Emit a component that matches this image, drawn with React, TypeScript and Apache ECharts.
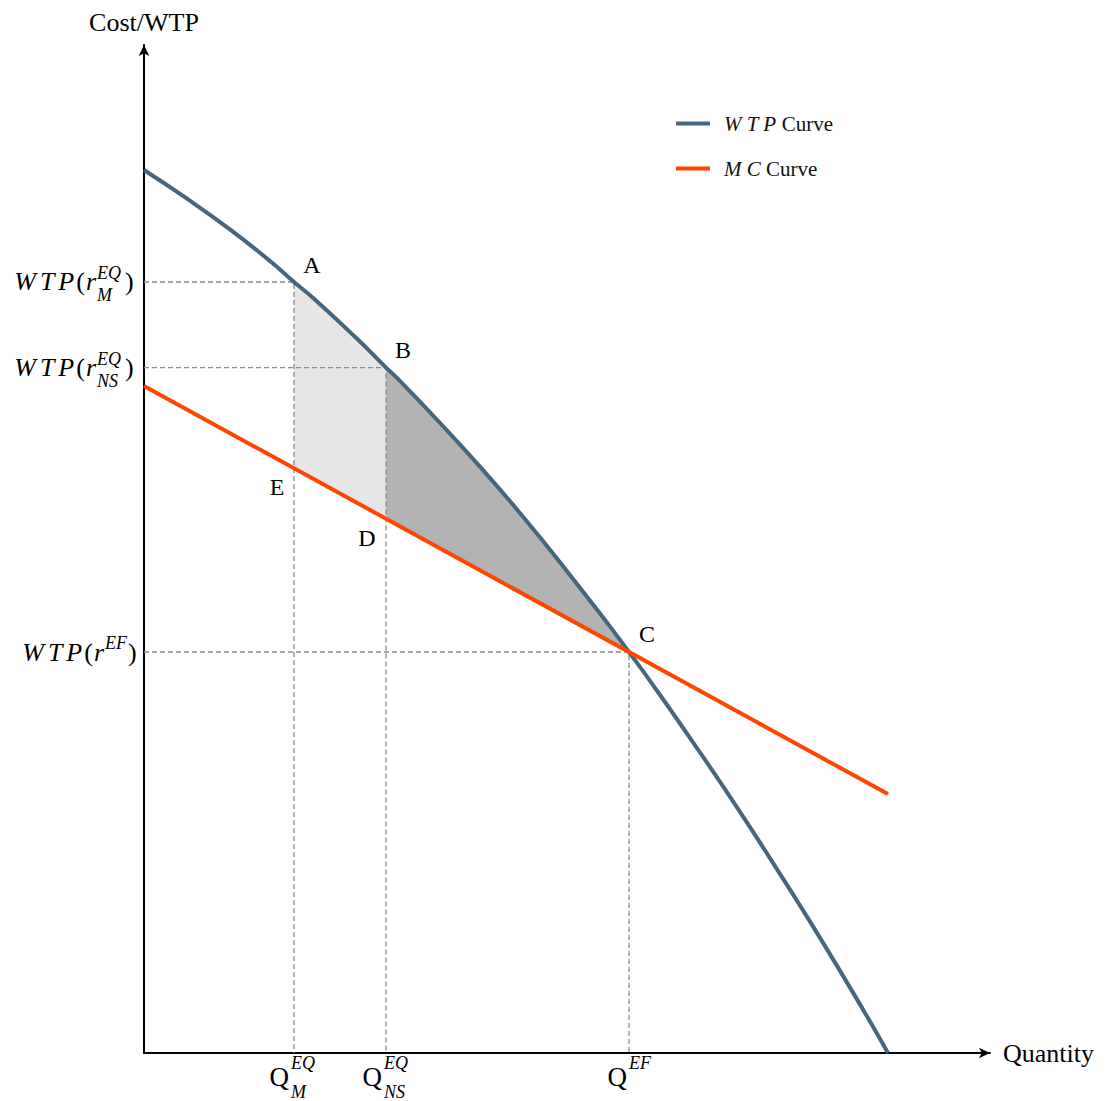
import React, { useEffect, useRef } from 'react';
import * as echarts from 'echarts';

const FONT = '"Liberation Serif", "Times New Roman", serif';

// WTP curve: [quantity, cost/WTP]
const wtpCurve: number[][] = [
  [0, 8.76], [0.5, 8.48], [1.0, 8.18], [1.5, 7.85], [1.773, 7.649], [2.0, 7.49],
  [2.5, 7.10], [2.861, 6.80], [3.0, 6.69], [3.5, 6.25], [4.0, 5.79], [4.5, 5.30],
  [5.0, 4.78], [5.5, 4.24], [5.733, 3.978], [6.0, 3.67], [6.5, 3.07], [7.0, 2.45],
  [7.5, 1.80], [8.0, 1.13], [8.5, 0.43], [8.794, 0.0],
];
// MC line endpoints
const mcLine: number[][] = [[0, 6.617], [8.794, 2.569]];

// Named points
const pointA = [1.773, 7.649];
const pointB = [2.861, 6.80];
const pointC = [5.733, 3.978];
const pointD = [2.861, 5.30];
const pointE = [1.773, 5.801];
const pointNames = ['A', 'B', 'C', 'D', 'E'];

// Tick label parts
const yTickPoints = [pointA, pointB, pointC];
const yTickSup = ['EQ', 'EQ', 'EF'];
const yTickSub = ['M', 'NS', ''];
const xTickSup = ['EQ', 'EQ', 'EF'];
const xTickSub = ['M', 'NS', ''];

const seriesNames = ['WTP Curve', 'MC Curve'];
const axisNames = ['Quantity', 'Cost/WTP'];

const lightRegion = [
  ...wtpCurve.filter((p) => p[0] >= pointA[0] && p[0] <= pointB[0]),
  pointD,
  pointE,
];
const darkRegion = [
  ...wtpCurve.filter((p) => p[0] >= pointB[0] && p[0] <= pointC[0]),
  pointD,
];

const BLUE = '#44677f';
const ORANGE = '#ff4500';

export default function App() {
  const ref = useRef<HTMLDivElement>(null);
  useEffect(() => {
    const chart = echarts.init(ref.current!, null, { renderer: 'svg' });

    const region = (pts: number[][], color: string) => ({
      type: 'custom',
      coordinateSystem: 'cartesian2d',
      data: [[0, 0]],
      silent: true,
      z: 1,
      renderItem: (_p: any, api: any) => ({
        type: 'polygon',
        shape: { points: pts.map((p) => api.coord(p)) },
        style: { fill: color, stroke: 'none' },
      }),
    });

    const guide = (p: number[]) => ({
      type: 'line',
      data: [[0, p[1]], [p[0], p[1]], [p[0], 0]],
      symbol: 'none',
      silent: true,
      z: 2,
      lineStyle: { type: [5, 3], color: '#8a8a8a', width: 1.3 },
    });

    const option: any = {
      animation: false,
      backgroundColor: '#fff',
      grid: { left: 144, right: 115, top: 45, bottom: 48, containLabel: false, outerBoundsMode: 'none' },
      legend: {
        data: seriesNames,
        orient: 'vertical',
        left: 676,
        top: 113,
        padding: 0,
        itemWidth: 34,
        itemHeight: 4,
        itemGap: 24,
        icon: 'rect',
        formatter: (name: string) => (name === 'WTP Curve' ? '{i|W T P} Curve' : '{i|M C} Curve'),
        textStyle: {
          fontFamily: FONT,
          fontSize: 21,
          color: '#111',
          rich: {
            i: { fontFamily: FONT, fontSize: 21, fontStyle: 'italic', color: '#111', padding: [0, 0, 0, 9] },
          },
        },
      },
      xAxis: {
        type: 'value',
        min: 0,
        max: 10,
        name: axisNames[0],
        nameLocation: 'end',
        nameGap: 13,
        nameTextStyle: { fontFamily: FONT, fontSize: 26, color: '#000' },
        axisLine: { lineStyle: { color: '#000', width: 2 }, symbol: ['none', 'arrow'], symbolSize: [8, 11] },
        axisTick: { show: false },
        axisLabel: { show: false },
        splitLine: { show: false },
      },
      yAxis: {
        type: 'value',
        min: 0,
        max: 10,
        name: axisNames[1],
        nameLocation: 'end',
        nameGap: 10,
        nameTextStyle: { fontFamily: FONT, fontSize: 26, color: '#000' },
        axisLine: { lineStyle: { color: '#000', width: 2 }, symbol: ['none', 'arrow'], symbolSize: [8, 11] },
        axisTick: { show: false },
        axisLabel: { show: false },
        splitLine: { show: false },
      },
      series: [
        region(lightRegion, '#e6e6e6'),
        region(darkRegion, '#b3b3b3'),
        ...yTickPoints.map(guide),
        {
          name: seriesNames[0],
          type: 'line',
          data: wtpCurve,
          symbol: 'none',
          smooth: true,
          z: 3,
          color: BLUE,
          lineStyle: { color: BLUE, width: 4 },
        },
        {
          name: seriesNames[1],
          type: 'line',
          data: mcLine,
          symbol: 'none',
          z: 4,
          color: ORANGE,
          lineStyle: { color: ORANGE, width: 4 },
        },
      ],
    };
    chart.setOption(option);

    const px = (p: number[]) => chart.convertToPixel({ gridIndex: 0 }, p) as number[];
    const txt = (x: number, y: number, text: string, size: number, italic: boolean, align: string, rich?: any) => ({
      type: 'text',
      x,
      y,
      silent: true,
      z: 100,
      style: {
        text,
        fill: '#000',
        fontFamily: FONT,
        fontSize: size,
        fontStyle: italic ? 'italic' : 'normal',
        align,
        verticalAlign: 'middle',
        rich,
      },
    });
    const mainRich = {
      i: { fontFamily: FONT, fontSize: 26, fontStyle: 'italic', fill: '#000', padding: [0, 4, 0, 0] },
      p: { fontFamily: FONT, fontSize: 26, fontStyle: 'italic', fill: '#000', padding: [0, 2, 0, 0] },
      r: { fontFamily: FONT, fontSize: 26, fontStyle: 'italic', fill: '#000' },
      n: { fontFamily: FONT, fontSize: 26, fill: '#000', padding: [0, 1, 0, 0] },
    };

    const elements: any[] = [];
    const origin = px([0, 0]);
    // y-axis tick labels
    yTickPoints.forEach((p, k) => {
      const [, y] = px([0, p[1]]);
      const ax = origin[0];
      const hasSub = yTickSub[k] !== '';
      const scriptX = hasSub ? ax - 48 : ax - 40;
      const closeX = hasSub ? ax - 19 : ax - 16;
      elements.push(txt(scriptX, y, '{i|W}{i|T}{p|P}{n|(}{r|r}', 26, false, 'right', mainRich));
      elements.push(txt(scriptX + 1, y - 9, yTickSup[k], 18, true, 'left'));
      if (hasSub) elements.push(txt(scriptX + 1, y + 13, yTickSub[k], 18, true, 'left'));
      elements.push(txt(closeX, y, ')', 26, false, 'left'));
    });
    // x-axis tick labels
    yTickPoints.forEach((p, k) => {
      const [x] = px([p[0], 0]);
      const ay = origin[1];
      const hasSub = xTickSub[k] !== '';
      const qRight = hasSub ? x - (k === 0 ? 5 : 4) : x - 2;
      elements.push(txt(qRight, ay + 24, 'Q', 27, false, 'right'));
      elements.push(txt(qRight + 2, ay + 10, xTickSup[k], 18, true, 'left'));
      if (hasSub) elements.push(txt(qRight + 2, ay + 39, xTickSub[k], 18, true, 'left'));
    });
    // point letters
    const pts = [pointA, pointB, pointC, pointD, pointE];
    const offs = [[18, -17], [17, -18], [18, -18], [-19, 19], [-17, 19]];
    pts.forEach((p, k) => {
      const [x, y] = px(p);
      elements.push(txt(x + offs[k][0], y + offs[k][1], pointNames[k], 24, false, 'center'));
    });

    chart.setOption({ graphic: elements });
    return () => chart.dispose();
  }, []);
  return <div ref={ref} style={{ position: 'absolute', left: 0, top: 0, width: 1105, height: 1101 }} />;
}
